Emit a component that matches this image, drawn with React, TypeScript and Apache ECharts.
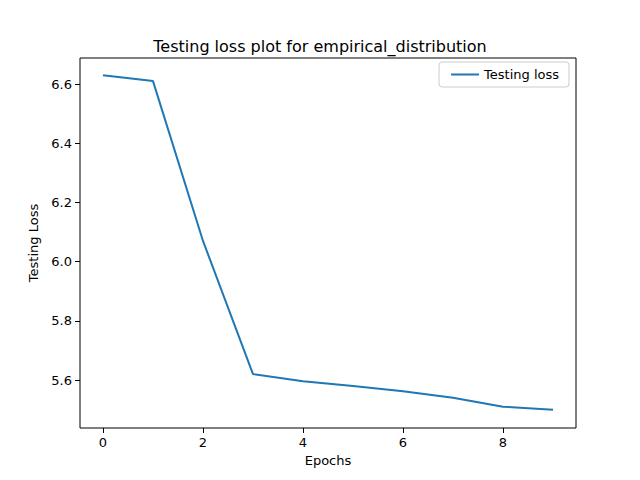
import React, { useEffect, useRef } from "react";
import * as echarts from "echarts";

const epochs = [0, 1, 2, 3, 4, 5, 6, 7, 8, 9];
const losses = [6.63, 6.61, 6.07, 5.62, 5.596, 5.58, 5.562, 5.54, 5.51, 5.5];
const xTicks = [0, 2, 4, 6, 8];
const yTicks = [5.6, 5.8, 6.0, 6.2, 6.4, 6.6];

export default function App() {
  const ref = useRef<HTMLDivElement>(null);
  useEffect(() => {
    const chart = echarts.init(ref.current!, null, { renderer: "svg" });
    const font = "DejaVu Sans";
    chart.setOption({
      animation: false,
      textStyle: { fontFamily: font },
      title: {
        text: "Testing loss plot for empirical_distribution",
        left: "center",
        top: 33,
        textStyle: { fontFamily: font, fontSize: 16, fontWeight: "normal", color: "#000" },
      },
      legend: {
        data: ["Testing loss"],
        right: 71,
        top: 62,
        itemWidth: 28,
        itemHeight: 2,
        itemGap: 8,
        padding: [6, 10, 6, 12],
        borderColor: "#ccc",
        borderWidth: 1,
        borderRadius: 3,
        textStyle: { fontFamily: font, fontSize: 13, color: "#000" },
        icon: "rect",
      },
      grid: { left: 80, right: 64, top: 58, bottom: 52, show: true, borderColor: "#000", borderWidth: 1 },
      xAxis: {
        type: "value",
        min: -0.46,
        max: 9.46,
        name: "Epochs",
        nameLocation: "middle",
        nameGap: 26,
        nameTextStyle: { fontFamily: font, fontSize: 13, color: "#000" },
        axisLine: { show: false, onZero: false },
        splitLine: { show: false },
        axisTick: { show: true, length: 5, lineStyle: { color: "#000" }, customValues: xTicks },
        axisLabel: { customValues: xTicks, fontSize: 13, color: "#000", fontFamily: font, margin: 8 },
      },
      yAxis: {
        type: "value",
        min: 5.438,
        max: 6.688,
        name: "Testing Loss",
        nameLocation: "middle",
        nameGap: 40,
        nameTextStyle: { fontFamily: font, fontSize: 13, color: "#000" },
        axisLine: { show: false, onZero: false },
        splitLine: { show: false },
        axisTick: { show: true, length: 5, lineStyle: { color: "#000" }, customValues: yTicks },
        axisLabel: {
          customValues: yTicks,
          fontSize: 13,
          color: "#000",
          fontFamily: font,
          margin: 8,
          formatter: (v: number) => v.toFixed(1),
        },
      },
      series: [
        {
          name: "Testing loss",
          type: "line",
          data: epochs.map((e, i) => [e, losses[i]]),
          showSymbol: false,
          lineStyle: { color: "#1f77b4", width: 2 },
          itemStyle: { color: "#1f77b4" },
        },
      ],
    });
    return () => chart.dispose();
  }, []);
  return <div ref={ref} style={{ position: "fixed", left: 0, top: 0, width: 640, height: 480, background: "#fff" }} />;
}
